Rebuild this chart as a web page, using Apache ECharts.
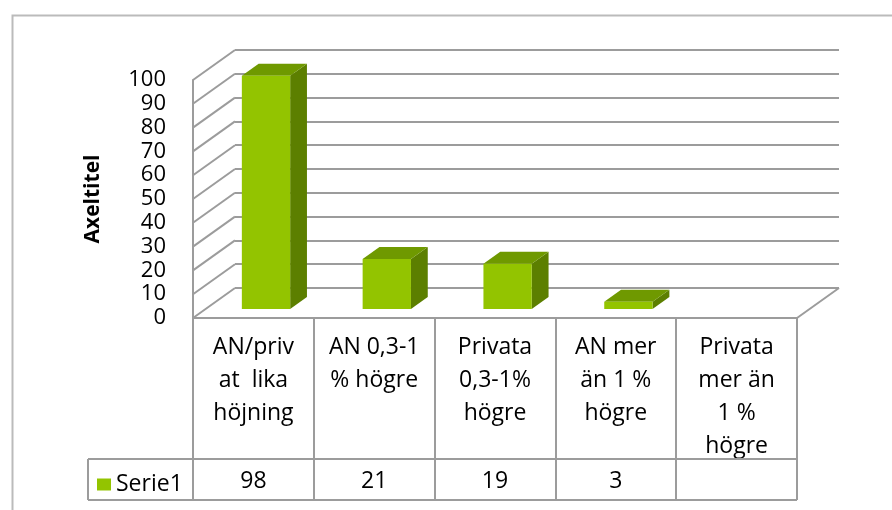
<!DOCTYPE html>
<html>
<head>
<meta charset="utf-8">
<script src="https://cdn.jsdelivr.net/npm/echarts@6/dist/echarts.min.js"></script>
<style>
  html, body { margin: 0; padding: 0; background: #fff; }
  #chart { width: 892px; height: 510px; }
</style>
</head>
<body>
<div id="chart"></div>
<script>
// data
const categories = [
  'AN/priv\nat  lika\nhöjning',
  'AN 0,3-1\n% högre',
  'Privata\n0,3-1%\nhögre',
  'AN mer\nän 1 %\nhögre',
  'Privata\nmer än\n1 %\nhögre'
]
const values = [98, 21, 19, 3, null]
const yTicks = [0, 10, 20, 30, 40, 50, 60, 70, 80, 90, 100]
const seriesName = 'Serie1'
const axisTitle = 'Axeltitel'

// 3d look
const DX = 42
const DY = 30
const FRONT = '#93c400'
const TOP = '#6f9900'
const SIDE = '#5c7f00'
const LINE = '#9c9c9c'
const FONT = 'Open Sans'

let myChart = echarts.init(document.getElementById('chart'))

function renderBar (params, api) {
  const v = api.value(1)
  if (v == null || isNaN(v)) return
  const top = api.coord([api.value(0), v])
  const base = api.coord([api.value(0), 0])
  const band = api.size([1, 0])[0]
  const w = band * 0.4
  const x0 = top[0] - w / 2 + DX * 0.3
  const x1 = x0 + w
  const yT = top[1] - DY * 0.3
  const yB = base[1] - DY * 0.3
  const ddx = DX * 0.4
  const ddy = DY * 0.4
  return {
    type: 'group',
    children: [
      { type: 'polygon', shape: { points: [[x1, yT], [x1 + ddx, yT - ddy], [x1 + ddx, yB - ddy], [x1, yB]] }, style: { fill: SIDE } },
      { type: 'polygon', shape: { points: [[x0, yT], [x1, yT], [x1 + ddx, yT - ddy], [x0 + ddx, yT - ddy]] }, style: { fill: TOP } },
      { type: 'rect', shape: { x: x0, y: yT, width: w, height: yB - yT }, style: { fill: FRONT } }
    ]
  }
}

// side wall lines, one per tick
function renderWall (params, api) {
  const cs = params.coordSys
  const p = api.coord([0, api.value(1)])
  return {
    type: 'line',
    shape: { x1: cs.x, y1: p[1], x2: cs.x + DX, y2: p[1] - DY },
    style: { stroke: LINE, lineWidth: 2 }
  }
}

// floor edge and table lines
function renderFrame (params, api) {
  const cs = params.coordSys
  const xR = cs.x + cs.width
  const yF = cs.y + cs.height
  const xL = cs.x - 105
  const y1 = yF + 141
  const y2 = yF + 182
  const st = { stroke: LINE, lineWidth: 2 }
  return {
    type: 'group',
    children: [
      { type: 'line', shape: { x1: xR, y1: yF, x2: xR + DX, y2: yF - DY }, style: st },
      { type: 'line', shape: { x1: xL, y1: y1, x2: xR, y2: y1 }, style: st },
      { type: 'line', shape: { x1: xL, y1: y2, x2: xR, y2: y2 }, style: st },
      { type: 'line', shape: { x1: xL, y1: y1, x2: xL, y2: y2 }, style: st }
    ]
  }
}

myChart.setOption({
  animation: false,
  graphic: [
    {
      type: 'rect',
      left: 10,
      top: 13,
      shape: { width: 900, height: 520 },
      style: { fill: 'none', stroke: '#bbbbbb', lineWidth: 2 }
    }
  ],
  legend: {
    data: [seriesName],
    left: 92,
    top: 468,
    icon: 'rect',
    itemWidth: 14,
    itemHeight: 12,
    textStyle: { fontFamily: FONT, fontSize: 23, color: '#000' }
  },
  grid: [
    { left: 193, top: 80, width: 604, height: 238 },
    { left: 193 + DX, top: 80 - DY, width: 604, height: 238 }
  ],
  xAxis: [
    {
      type: 'category',
      gridIndex: 0,
      data: categories,
      position: 'bottom',
      axisLine: { onZero: false, lineStyle: { color: LINE, width: 2 } },
      axisTick: { show: true, length: 182, interval: 0, lineStyle: { color: LINE, width: 2 } },
      axisLabel: {
        interval: 0,
        margin: 13,
        verticalAlign: 'top',
        lineHeight: 33,
        fontFamily: FONT,
        fontSize: 23,
        color: '#000'
      }
    },
    {
      type: 'category',
      gridIndex: 1,
      data: categories,
      show: false
    },
    {
      type: 'category',
      gridIndex: 0,
      data: categories,
      position: 'bottom',
      offset: 141,
      axisLine: { show: false, onZero: false },
      axisTick: { show: false },
      axisLabel: {
        interval: 0,
        margin: 22,
        verticalAlign: 'middle',
        fontFamily: FONT,
        fontSize: 23,
        color: '#000',
        formatter: function (val, idx) {
          return values[idx] == null ? '' : String(values[idx])
        }
      }
    }
  ],
  yAxis: [
    {
      type: 'value',
      gridIndex: 0,
      min: 0,
      max: 100,
      interval: 10,
      name: axisTitle,
      nameLocation: 'middle',
      nameRotate: 90,
      nameGap: 89,
      nameTextStyle: { fontFamily: FONT, fontSize: 21, fontWeight: 'bold', color: '#000' },
      axisLine: { show: true, lineStyle: { color: LINE, width: 2 } },
      axisTick: { show: false },
      splitLine: { show: false },
      axisLabel: { margin: 27, padding: [5, 0, 0, 0], fontFamily: FONT, fontSize: 22, color: '#000' }
    },
    {
      type: 'value',
      gridIndex: 1,
      min: 0,
      max: 100,
      interval: 10,
      axisLine: { show: false },
      axisTick: { show: false },
      axisLabel: { show: false },
      splitLine: { show: true, lineStyle: { color: LINE, width: 2 } }
    }
  ],
  series: [
    {
      type: 'custom',
      name: 'wall',
      xAxisIndex: 0,
      yAxisIndex: 0,
      renderItem: renderWall,
      data: yTicks.map(v => [0, v]),
      z: 1
    },
    {
      type: 'custom',
      name: 'frame',
      xAxisIndex: 0,
      yAxisIndex: 0,
      renderItem: renderFrame,
      data: [[0, 0]],
      z: 1
    },
    {
      type: 'custom',
      name: seriesName,
      xAxisIndex: 0,
      yAxisIndex: 0,
      itemStyle: { color: FRONT },
      renderItem: renderBar,
      data: values.map((v, i) => [i, v == null ? '-' : v]),
      z: 3
    }
  ]
})
</script>
</body>
</html>
